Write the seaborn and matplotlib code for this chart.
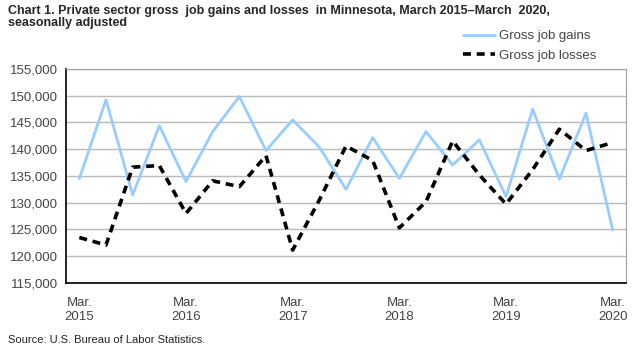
import numpy as np
import pandas as pd
import matplotlib
matplotlib.use('Agg')
import matplotlib.pyplot as plt
import seaborn as sns

# quarterly data, Mar 2015 - Mar 2020
quarters = ['Mar. 2015', 'Jun. 2015', 'Sep. 2015', 'Dec. 2015',
            'Mar. 2016', 'Jun. 2016', 'Sep. 2016', 'Dec. 2016',
            'Mar. 2017', 'Jun. 2017', 'Sep. 2017', 'Dec. 2017',
            'Mar. 2018', 'Jun. 2018', 'Sep. 2018', 'Dec. 2018',
            'Mar. 2019', 'Jun. 2019', 'Sep. 2019', 'Dec. 2019',
            'Mar. 2020']
gains = [134500, 149250, 131450, 144400, 133950, 143300, 149850, 139750,
         145500, 140400, 132500, 142200, 134550, 143300, 137050, 141750,
         131150, 147500, 134400, 146750, 124900]
losses = [123500, 122100, 136650, 136950, 128000, 134100, 133000, 138800,
          121150, 130500, 140600, 137900, 125300, 130200, 141550, 135200,
          129750, 136200, 143750, 139750, 141250]
tick_labels = ['Mar.\n2015', 'Mar.\n2016', 'Mar.\n2017', 'Mar.\n2018', 'Mar.\n2019', 'Mar.\n2020']
y_ticks = list(range(115000, 155001, 5000))

df = pd.DataFrame({'pos': np.arange(len(quarters)), 'quarter': quarters,
                   'gains': gains, 'losses': losses})

sns.set_style('white')
plt.rcParams['font.family'] = ['DejaVu Sans Condensed', 'Liberation Sans', 'DejaVu Sans']

fig = plt.figure(figsize=(6.42, 3.5), dpi=100)
ax = fig.add_axes([66/642, 67/350, 560/642, 214/350])

sns.lineplot(data=df, x='pos', y='gains', ax=ax, color='#99ccff', lw=2, label='Gross job gains')
sns.lineplot(data=df, x='pos', y='losses', ax=ax, color='black', lw=2.6, ls=(0, (2.2, 1.6)),
             label='Gross job losses')

ax.set_xlim(-0.5, len(quarters) - 0.5)
ax.set_ylim(115000, 155000)
ax.set_yticks(y_ticks)
ax.set_yticklabels([f'{v:,}' for v in y_ticks], fontsize=9.5, color='#444444')
ax.yaxis.grid(True, color='#bbbbbb', lw=1)
ax.tick_params(axis='y', length=0, pad=6)

ax.set_xticks(np.arange(0, len(quarters), 4))
ax.set_xticklabels(tick_labels, fontsize=9.5, color='#444444')
ax.set_xticks(np.arange(-0.5, len(quarters), 1), minor=True)
ax.tick_params(axis='x', which='major', length=0, pad=10)
ax.tick_params(axis='x', which='minor', length=4, width=1, color='black', direction='out')
ax.set_xlabel('')
ax.set_ylabel('')

for s in ['top', 'right']:
    ax.spines[s].set_color('#a0a0a0')
for s in ['left', 'bottom']:
    ax.spines[s].set_color('black')
    ax.spines[s].set_linewidth(1.2)

ax.legend(loc='upper left', bbox_to_anchor=((463 - 66) / 560, 1 + (69 - 30) / 214), frameon=False,
          fontsize=9.5, borderpad=0, borderaxespad=0,
          handlelength=2.4, labelspacing=0.55, handletextpad=0.3, labelcolor='#444444')

fig.text(8/642, 1 - 5/350, 'Chart 1. Private sector gross  job gains and losses  in Minnesota, March 2015\u2013March  2020,\nseasonally adjusted',
         fontsize=9, fontweight='bold', va='top', ha='left', linespacing=1.05)
fig.text(8/642, 1 - 343/350, 'Source: U.S. Bureau of Labor Statistics.', fontsize=8, color='#222222')

fig.savefig('out.png', dpi=100)
